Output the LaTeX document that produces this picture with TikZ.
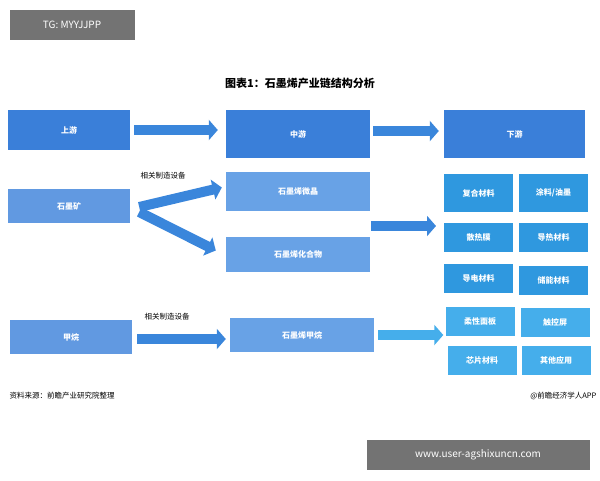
\documentclass[tikz,border=0pt]{standalone}
\usepackage{fontspec}
\setmainfont{Noto Sans CJK SC}
\usetikzlibrary{arrows.meta}
\definecolor{topblue}{HTML}{3A7FD9}
\definecolor{midblue}{HTML}{68A2E6}
\definecolor{subblue}{HTML}{2F98DF}
\definecolor{lowblue}{HTML}{45AEEB}
\definecolor{arrowblue}{HTML}{3A86DB}
\tikzset{
  box/.style={draw=none, fill=#1, text=white, font=\bfseries\fontsize{8}{9}\selectfont, inner sep=0pt},
  fat/.style={draw=#1, line width=10pt, -{Triangle[width=20pt,length=9pt]}},
  fat/.default=arrowblue,
  tag/.style={fill=black!55, text=white, font=\fontsize{10}{12}\selectfont, inner sep=0pt}
}
\begin{document}
\begin{tikzpicture}[x=1pt, y=-1pt]
\useasboundingbox (0,0) rectangle (600,480);
% Corner tags
    \node[tag, minimum width=125pt, minimum height=30pt] (tg) at (72,25) {TG: MYYJJPP};
    \node[tag, minimum width=223pt, minimum height=30pt] (url) at (478,455) {www.user-agshixuncn.com};
% Title
    \node[font=\bfseries\fontsize{11}{13}\selectfont] (title) at (300,83) {图表1：石墨烯产业链结构分析};
% Chain stages
    \node[box=topblue, minimum width=122pt, minimum height=40pt] (up) at (69,130) {上游};
    \node[box=topblue, minimum width=144pt, minimum height=48pt] (mid) at (298,134) {中游};
    \node[box=topblue, minimum width=141pt, minimum height=48pt] (down) at (514.5,134) {下游};
% Graphite branch
    \node[box=topblue!80!white, minimum width=122pt, minimum height=34pt] (ore) at (69,206) {石墨矿};
    \node[box=midblue, minimum width=144pt, minimum height=39pt] (micro) at (298,191.5) {石墨烯微晶};
    \node[box=midblue, minimum width=144pt, minimum height=35pt] (comp) at (298,254.5) {石墨烯化合物};
    \node[font=\fontsize{7.5}{9}\selectfont] (lab1) at (163,176) {相关制造设备};
% Methane branch
    \node[box=topblue!80!white, minimum width=122pt, minimum height=34pt] (gas) at (71,337) {甲烷};
    \node[box=midblue, minimum width=144pt, minimum height=34pt] (gmeth) at (302,335) {石墨烯甲烷};
    \node[font=\fontsize{7.5}{9}\selectfont] (lab2) at (167,317) {相关制造设备};
% Applications
    \foreach \name/\txt/\x/\y/\h in {a1/复合材料/478.5/193/38, a2/{涂料/油墨}/553.5/193/38,
        a3/散热膜/478.5/237.5/29, a4/导热材料/553.5/237.5/29,
        a5/导电材料/478.5/278.5/29, a6/储能材料/553.5/280/29}
      \node[box=subblue, minimum width=69pt, minimum height=\h pt] (\name) at (\x,\y) {\txt};
    \foreach \name/\txt/\x/\y in {a7/柔性面板/480/321, a8/触控屏/555/322,
        a9/芯片材料/482/360, a10/其他应用/556/360}
      \node[box=lowblue, minimum width=69pt, minimum height=29pt] (\name) at (\x,\y) {\txt};
% Flow arrows
    \coordinate (m1) at (371,226);
    \coordinate (m2) at (436,226);
    \draw[fat] ([xshift=4pt]up.east) -- ([xshift=-8pt]mid.west |- up.east);
    \draw[fat] ([xshift=3pt,yshift=3pt]mid.east) -- ([xshift=-5pt,yshift=3pt]down.west);
    \draw[fat] ([xshift=9pt,yshift=-1pt]ore.east) -- ([xshift=-4pt,yshift=4pt]micro.west);
    \draw[fat] ([xshift=9pt,yshift=-6pt]ore.east) -- ([xshift=-10pt,yshift=4pt]comp.west);
    \draw[fat] (m1) -- (m2);
    \draw[fat] ([xshift=5pt,yshift=-2pt]gas.east) -- ([xshift=-4pt,yshift=-4pt]gmeth.west);
    \draw[fat=lowblue] ([xshift=4pt]gmeth.east) -- ([xshift=-2pt]a7.west |- gmeth.east);
% Footer
    \node[anchor=west, font=\fontsize{7.5}{9}\selectfont] (src) at (6,396) {资料来源：前瞻产业研究院整理};
    \node[anchor=east, font=\fontsize{7.5}{9}\selectfont] (app) at (600,396) {@前瞻经济学人APP};
\end{tikzpicture}
\end{document}
